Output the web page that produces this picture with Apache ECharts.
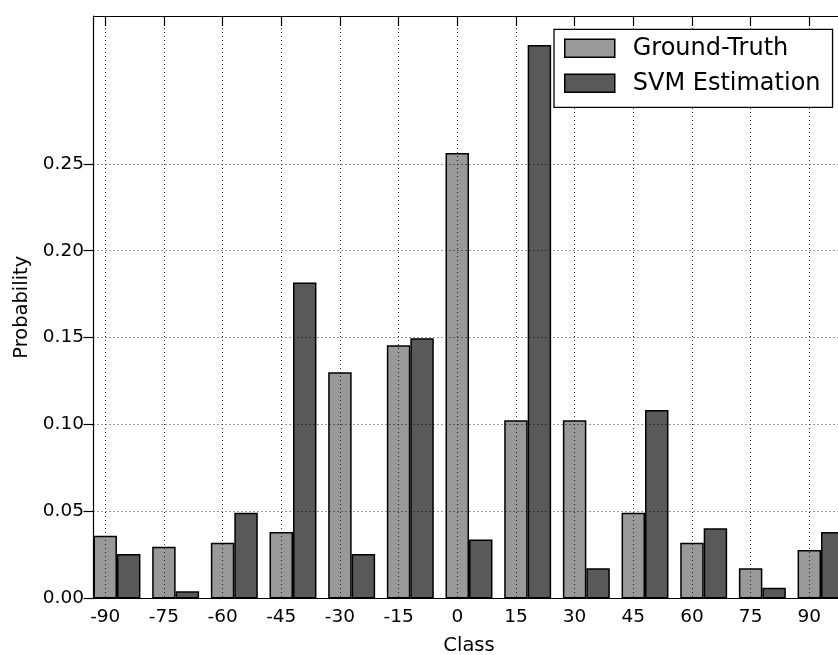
<!DOCTYPE html>
<html>
<head>
<meta charset="utf-8">
<script src="https://cdn.jsdelivr.net/npm/echarts@6/dist/echarts.min.js"></script>
<style>
  html, body { margin: 0; padding: 0; background: #fff; }
  #chart { width: 838px; height: 655px; }
</style>
</head>
<body>
<div id="chart"></div>
<script>
// Head-pose classes (degrees) and the probability of each class
const classes = [-90, -75, -60, -45, -30, -15, 0, 15, 30, 45, 60, 75, 90];
const groundTruth = [0.0361, 0.0298, 0.0321, 0.0382, 0.1301, 0.1456, 0.2562, 0.1025, 0.1025, 0.0493, 0.0321, 0.0174, 0.0279];
const svmEstimation = [0.0256, 0.0041, 0.0493, 0.1818, 0.0256, 0.1496, 0.0340, 0.3183, 0.0174, 0.1084, 0.0404, 0.0062, 0.0382];
const yTicks = [0, 0.05, 0.10, 0.15, 0.20, 0.25];
const seriesNames = ['Ground-Truth', 'SVM Estimation'];

// Bars are 40% of the class step wide; the second bar of each pair sits one bar width to the right
const CLASS_STEP = 15;
const BAR_FRACTION = 0.4;
const BAR_SHIFT = CLASS_STEP * BAR_FRACTION;
const X_MIN = classes[0] - BAR_SHIFT / 2;
const X_MAX = classes[classes.length - 1] + BAR_SHIFT * 1.5;
const Y_MAX = 0.335;

const FONT = 'DejaVu Sans';
const gridDots = { type: [1, 3], color: '#000', width: 0.8 };
const spine = { color: '#000', width: 1.2 };

const chart = echarts.init(document.getElementById('chart'), null, { renderer: 'canvas' });

chart.setOption({
  animation: false,
  backgroundColor: '#fff',
  // the plotting area runs past the right edge of the canvas
  grid: {
    left: 93.5, width: 751, top: 16, height: 582.5,
    containLabel: false,
    outerBoundsMode: 'none'
  },
  legend: {
    orient: 'vertical',
    left: 554,
    top: 29.3,
    data: seriesNames,
    icon: 'rect',
    itemWidth: 50,
    itemHeight: 18,
    itemGap: 11,
    padding: [7, 12, 12, 10],
    backgroundColor: '#fff',
    borderColor: '#000',
    borderWidth: 1.3,
    selectedMode: false,
    itemStyle: { borderColor: '#000', borderWidth: 1.5 },
    textStyle: { fontFamily: FONT, fontSize: 24, color: '#000', padding: [0, 0, 0, 13] }
  },
  xAxis: [
    {
      type: 'value',
      position: 'bottom',
      min: X_MIN,
      max: X_MAX,
      z: 3,
      name: 'Class',
      nameLocation: 'middle',
      nameGap: 37,
      nameTextStyle: { fontFamily: FONT, fontSize: 19.5, color: '#000' },
      axisLine: { show: true, onZero: false, lineStyle: spine },
      axisTick: { show: false, customValues: classes },
      axisLabel: {
        customValues: classes,
        margin: 9.5,
        fontFamily: FONT,
        fontSize: 18.5,
        color: '#000',
        formatter: v => String(v)
      },
      splitLine: { show: true, lineStyle: gridDots }
    },
    {
      // top spine with inward ticks
      type: 'value',
      position: 'top',
      min: X_MIN,
      max: X_MAX,
      z: 3,
      axisLine: { show: true, onZero: false, lineStyle: spine },
      axisTick: { show: true, inside: true, length: 10, customValues: classes, lineStyle: { color: '#000', width: 1.2 } },
      axisLabel: { show: false },
      splitLine: { show: false }
    }
  ],
  yAxis: [
    {
      type: 'value',
      position: 'left',
      min: 0,
      max: Y_MAX,
      z: 3,
      name: 'Probability',
      nameLocation: 'middle',
      nameGap: 56,
      nameTextStyle: { fontFamily: FONT, fontSize: 19.5, color: '#000' },
      axisLine: { show: true, onZero: false, lineStyle: spine },
      axisTick: { show: false, customValues: yTicks },
      axisLabel: {
        customValues: yTicks,
        margin: 9.5,
        fontFamily: FONT,
        fontSize: 18.5,
        color: '#000',
        formatter: v => v.toFixed(2)
      },
      splitLine: { show: true, lineStyle: gridDots }
    },
    {
      // ticks along the left spine
      type: 'value',
      position: 'left',
      offset: 0,
      min: 0,
      max: Y_MAX,
      z: 3,
      axisLine: { show: false, onZero: false },
      axisTick: { show: true, inside: false, length: 10, customValues: yTicks, lineStyle: { color: '#000', width: 1.2 } },
      axisLabel: { show: false },
      splitLine: { show: false }
    }
  ],
  series: [
    {
      type: 'bar',
      name: seriesNames[0],
      xAxisIndex: 0,
      barWidth: (BAR_FRACTION * 100) + '%',
      data: classes.map((c, i) => [c, groundTruth[i]]),
      itemStyle: { color: '#999999', borderColor: '#000', borderWidth: 1.5 },
      emphasis: { disabled: true }
    },
    {
      type: 'bar',
      name: seriesNames[1],
      xAxisIndex: 1,
      barWidth: (BAR_FRACTION * 100) + '%',
      data: classes.map((c, i) => [c + BAR_SHIFT, svmEstimation[i]]),
      itemStyle: { color: '#595959', borderColor: '#000', borderWidth: 1.5 },
      emphasis: { disabled: true }
    }
  ]
});
</script>
</body>
</html>
